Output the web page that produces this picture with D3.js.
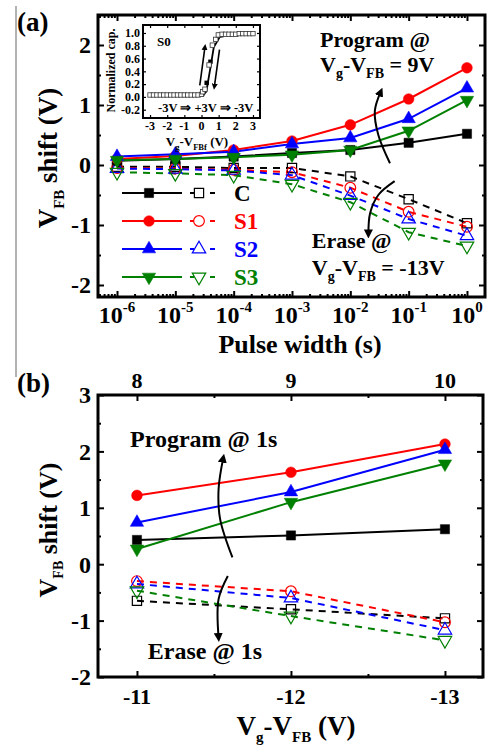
<!DOCTYPE html>
<html><head><meta charset="utf-8">
<script src="https://cdn.jsdelivr.net/npm/d3@7"></script>
<style>
body{margin:0;background:#fff}
svg text{font-family:"Liberation Serif","Times New Roman",serif;font-weight:bold;fill:#000}
</style>
</head><body>
<svg id="c" width="488" height="747"></svg>
<script>
// ---------------- DATA ----------------
const seriesNames = ["C", "S1", "S2", "S3"];
const seriesColors = ["#000000", "#ff0000", "#0000ff", "#008000"];

// Panel (a): pulse width (s)
const pulseWidths = [1e-6, 1e-5, 1e-4, 1e-3, 1e-2, 1e-1, 1];
const progA_C  = [0.07, 0.10, 0.14, 0.20, 0.25, 0.37, 0.52];
const progA_S1 = [0.10, 0.15, 0.25, 0.40, 0.67, 1.10, 1.62];
const progA_S2 = [0.14, 0.18, 0.22, 0.35, 0.45, 0.77, 1.28];
const progA_S3 = [0.08, 0.10, 0.13, 0.17, 0.25, 0.57, 1.08];
const eraseA_C  = [-0.03, -0.03, -0.05, -0.05, -0.19, -0.57, -0.97];
const eraseA_S1 = [-0.05, -0.06, -0.08, -0.12, -0.38, -0.78, -1.03];
const eraseA_S2 = [-0.06, -0.07, -0.09, -0.17, -0.51, -0.90, -1.18];
const eraseA_S3 = [-0.12, -0.14, -0.17, -0.32, -0.62, -1.12, -1.35];
const decadeExps = ["-6", "-5", "-4", "-3", "-2", "-1", "0"];

// Panel (b): gate voltage
const progGate  = [8, 9, 10];
const eraseGate = [-11, -12, -13];
const progB_C  = [0.43, 0.51, 0.62];
const progB_S1 = [1.22, 1.63, 2.13];
const progB_S2 = [0.74, 1.28, 2.03];
const progB_S3 = [0.27, 1.10, 1.78];
const eraseB_C  = [-0.65, -0.80, -0.96];
const eraseB_S1 = [-0.30, -0.48, -1.03];
const eraseB_S2 = [-0.35, -0.60, -1.17];
const eraseB_S3 = [-0.47, -0.92, -1.35];

// Inset: normalized capacitance of S0
const insetV = [-3, -2.8, -2.6, -2.4, -2.2, -2, -1.8, -1.6, -1.4, -1.2, -1, -0.8, -0.6, -0.4, -0.2, 0,
                0.07, 0.2, 0.44, 0.63, 0.83, 0.98, 1.2, 1.4, 1.6, 1.8, 2, 2.2, 2.4, 2.6, 2.8, 3];
const insetC = [0.03, 0.03, 0.03, 0.03, 0.03, 0.03, 0.03, 0.03, 0.03, 0.03, 0.03, 0.03, 0.03, 0.03, 0.03, 0.04,
                0.08, 0.12, 0.50, 0.81, 0.90, 0.97, 0.98, 0.98, 0.98, 0.98, 0.98, 0.99, 0.99, 0.99, 0.99, 0.99];
const insetRevV = [0.30, 0.52];
const insetRevC = [0.22, 0.55];
const insetTicksX = [-3, -2, -1, 0, 1, 2, 3];
const insetTicksY = [-0.2, 0, 0.2, 0.4, 0.6, 0.8, 1.0];

const progA = [progA_C, progA_S1, progA_S2, progA_S3];
const eraseA = [eraseA_C, eraseA_S1, eraseA_S2, eraseA_S3];
const progB = [progB_C, progB_S1, progB_S2, progB_S3];
const eraseB = [eraseB_C, eraseB_S1, eraseB_S2, eraseB_S3];

// ---------------- SETUP ----------------
const svg = d3.select("#c");
const defs = svg.append("defs");
const symFilled = [d3.symbolSquare, d3.symbolCircle, d3.symbolTriangle, d3.symbolTriangle];
const symRot = [0, 0, 0, 180];
const symSize = [85, 90, 78, 78];

function marker(g, i, x, y, open) {
  g.append("path")
    .attr("d", d3.symbol().type(symFilled[i]).size(symSize[i])())
    .attr("transform", `translate(${x},${y}) rotate(${symRot[i]})`)
    .attr("fill", open ? "none" : seriesColors[i])
    .attr("stroke", seriesColors[i])
    .attr("stroke-width", open ? 1.2 : 0.5);
}

function ticks(g, axisFn, scale, values, size, tx, ty, sw) {
  const a = g.append("g").attr("transform", `translate(${tx},${ty})`)
    .call(axisFn(scale).tickValues(values).tickSize(-size).tickFormat(""));
  a.select(".domain").remove();
  a.selectAll("line").attr("stroke", "#000").attr("stroke-width", sw || 2);
  a.selectAll("text").remove();
}

function subText(sel, parts) {
  let shifted = 0;
  parts.forEach(([t, type, fs]) => {
    const ts = sel.append("tspan").text(t);
    let target = 0;
    if (type === "sub") target = fs * 0.45;
    ts.attr("dy", target - shifted);
    shifted = target;
    if (fs) ts.attr("font-size", fs);
  });
}

function addHead(id, w, h) {
  defs.append("marker")
    .attr("id", id).attr("viewBox", "0 0 10 10").attr("refX", 5).attr("refY", 5)
    .attr("markerWidth", w).attr("markerHeight", h).attr("markerUnits", "userSpaceOnUse")
    .attr("orient", "auto")
    .append("path").attr("d", "M0,0 L10,5 L0,10 Z").attr("fill", "#000");
}
addHead("ah", 9, 9);
addHead("ahs", 6, 7);

function curvedArrow(g, pts) {
  g.append("path")
    .attr("d", d3.line().curve(d3.curveCatmullRom)(pts))
    .attr("fill", "none").attr("stroke", "#000").attr("stroke-width", 2)
    .attr("marker-end", "url(#ah)");
}

// left gray bar
svg.append("line").attr("x1", 16).attr("x2", 16).attr("y1", 6).attr("y2", 377)
  .attr("stroke", "#999").attr("stroke-width", 1.5);

// ================= PANEL (a) =================
const A = { l: 98, r: 485, t: 15, b: 297 };
const xA = d3.scaleLog().domain([Math.pow(10, -6.326), Math.pow(10, 0.309)]).range([A.l, A.r]);
const yA = d3.scaleLinear().domain([-2.2, 2.5]).range([A.b, A.t]);
const gA = svg.append("g");

const minorLog = [];
for (let e = -7; e <= 0; e++) for (let m = 2; m <= 9; m++) {
  const v = m * Math.pow(10, e);
  if (v > xA.domain()[0] && v < xA.domain()[1]) minorLog.push(v);
}
ticks(gA, d3.axisBottom, xA, pulseWidths, 6, 0, A.b);
ticks(gA, d3.axisBottom, xA, minorLog, 3, 0, A.b);
ticks(gA, d3.axisTop, xA, pulseWidths, 6, 0, A.t);
ticks(gA, d3.axisTop, xA, minorLog, 3, 0, A.t);
ticks(gA, d3.axisLeft, yA, [-2, -1, 0, 1, 2], 6, A.l, 0);
ticks(gA, d3.axisLeft, yA, [-1.5, -0.5, 0.5, 1.5], 3, A.l, 0);
ticks(gA, d3.axisRight, yA, [-2, -1, 0, 1, 2], 6, A.r, 0);
ticks(gA, d3.axisRight, yA, [-1.5, -0.5, 0.5, 1.5], 3, A.r, 0);

[-2, -1, 0, 1, 2].forEach(v => {
  gA.append("text").attr("x", 91).attr("y", yA(v)).attr("dy", "0.35em")
    .attr("text-anchor", "end").attr("font-size", 24).text(v);
});
pulseWidths.forEach((v, i) => {
  const t = gA.append("text").attr("x", xA(v)).attr("y", 323)
    .attr("text-anchor", "middle").attr("font-size", 24);
  t.append("tspan").text("10");
  t.append("tspan").attr("dy", -11).attr("font-size", 15).text(decadeExps[i]);
});
gA.append("text").attr("x", 300).attr("y", 353).attr("text-anchor", "middle")
  .attr("font-size", 26).text("Pulse width (s)");
{
  const t = gA.append("text").attr("transform", "translate(57,158) rotate(-90)")
    .attr("text-anchor", "middle").attr("font-size", 27);
  subText(t, [["V"], ["FB", "sub", 15], [" shift (V)"]]);
}
gA.append("text").attr("x", 17).attr("y", 31).attr("font-size", 27).text("(a)");

const lineA = d3.line().x((d, i) => xA(pulseWidths[i])).y(d => yA(d));
eraseA.forEach((s, i) => {
  gA.append("path").attr("d", lineA(s)).attr("fill", "none")
    .attr("stroke", seriesColors[i]).attr("stroke-width", 2).attr("stroke-dasharray", "7,6");
});
progA.forEach((s, i) => {
  gA.append("path").attr("d", lineA(s)).attr("fill", "none")
    .attr("stroke", seriesColors[i]).attr("stroke-width", 2);
});
eraseA.forEach((s, i) => s.forEach((v, j) => marker(gA, i, xA(pulseWidths[j]), yA(v), true)));
progA.forEach((s, i) => s.forEach((v, j) => marker(gA, i, xA(pulseWidths[j]), yA(v), false)));

gA.append("rect").attr("x", A.l).attr("y", A.t).attr("width", A.r - A.l).attr("height", A.b - A.t)
  .attr("fill", "none").attr("stroke", "#000").attr("stroke-width", 3);

// legend
const legY = [193, 221, 249, 277];
seriesNames.forEach((n, i) => {
  const y = legY[i];
  gA.append("line").attr("x1", 122).attr("x2", 182).attr("y1", y).attr("y2", y)
    .attr("stroke", seriesColors[i]).attr("stroke-width", 2);
  marker(gA, i, 149, y, false);
  gA.append("line").attr("x1", 190).attr("x2", 219).attr("y1", y).attr("y2", y)
    .attr("stroke", seriesColors[i]).attr("stroke-width", 2).attr("stroke-dasharray", "5,5");
  gA.append("rect").attr("x", 194).attr("y", y - 6).attr("width", 11).attr("height", 12).attr("fill", "#fff");
  marker(gA, i, 199, y, true);
  gA.append("text").attr("x", 234).attr("y", y + 8).attr("font-size", 23)
    .style("fill", seriesColors[i]).text(n);
});

// annotations (a)
const ptA = (lx, v) => [xA(Math.pow(10, lx)), yA(v)];
{
  let p = ptA(-2.52, 1.97);
  gA.append("text").attr("x", p[0]).attr("y", p[1]).attr("font-size", 22).text("Program @");
  p = ptA(-2.52, 1.55);
  const t = gA.append("text").attr("x", p[0]).attr("y", p[1]).attr("font-size", 22);
  subText(t, [["V"], ["g", "sub", 14], ["-V"], ["FB", "sub", 14], [" = 9V"]]);
  p = ptA(-2.66, -1.38);
  gA.append("text").attr("x", p[0]).attr("y", p[1]).attr("font-size", 22).text("Erase @");
  p = ptA(-2.66, -1.83);
  const t2 = gA.append("text").attr("x", p[0]).attr("y", p[1]).attr("font-size", 22);
  subText(t2, [["V"], ["g", "sub", 14], ["-V"], ["FB", "sub", 14], [" = -13V"]]);
  curvedArrow(gA, [ptA(-1.32, 0.03), ptA(-1.52, 0.50), ptA(-1.58, 0.90), ptA(-1.48, 1.22)]);
  curvedArrow(gA, [ptA(-1.24, -0.27), ptA(-1.52, -0.50), ptA(-1.66, -0.80), ptA(-1.69, -1.15)]);
}

// ---------------- INSET ----------------
const I = { l: 143, r: 260, t: 25, b: 118 };
const xI = d3.scaleLinear().domain([-3.41, 3.41]).range([I.l, I.r]);
const yI = d3.scaleLinear().domain([-0.33, 1.125]).range([I.b, I.t]);
const gI = svg.append("g");
gI.append("rect").attr("x", I.l).attr("y", I.t).attr("width", I.r - I.l).attr("height", I.b - I.t)
  .attr("fill", "#fff");
ticks(gI, d3.axisBottom, xI, insetTicksX, 3, 0, I.b, 1.2);
ticks(gI, d3.axisTop, xI, insetTicksX, 3, 0, I.t, 1.2);
ticks(gI, d3.axisLeft, yI, insetTicksY, 3, I.l, 0, 1.2);
ticks(gI, d3.axisRight, yI, insetTicksY, 3, I.r, 0, 1.2);
insetTicksX.forEach(v => {
  gI.append("text").attr("x", xI(v)).attr("y", 130).attr("text-anchor", "middle")
    .attr("font-size", 12).text(v);
});
insetTicksY.forEach(v => {
  gI.append("text").attr("x", 140).attr("y", yI(v)).attr("dy", "0.35em").attr("text-anchor", "end")
    .attr("font-size", 12).text(v.toFixed(1));
});
{
  const t = gI.append("text").attr("x", 197).attr("y", 146).attr("text-anchor", "middle").attr("font-size", 13);
  subText(t, [["V"], ["g", "sub", 8.5], ["-V"], ["FBf", "sub", 8.5], [" (V)"]]);
  gI.append("text").attr("transform", `translate(115,${(I.t + I.b) / 2 - 1}) rotate(-90)`)
    .attr("text-anchor", "middle").attr("font-size", 12).text("Normalized cap.");
}
// reverse sweep
gI.append("path")
  .attr("d", d3.line()(insetC.slice(15, 23).map((c, k) => [xI(insetV[15 + k]) + 1.5, yI(c) + 2])))
  .attr("fill", "none").attr("stroke", "#000").attr("stroke-width", 1.8);
insetRevV.forEach((v, i) => {
  gI.append("rect").attr("x", xI(v) - 2.2).attr("y", yI(insetRevC[i]) - 2.2).attr("width", 4.4).attr("height", 4.4)
    .attr("fill", "#000");
});
insetV.forEach((v, i) => {
  gI.append("rect").attr("x", xI(v) - 2.2).attr("y", yI(insetC[i]) - 2.2).attr("width", 4.4).attr("height", 4.4)
    .attr("fill", "#fff").attr("stroke", "#333").attr("stroke-width", 0.8);
});
const ptI = (a, b) => [xI(a), yI(b)];
gI.append("path").attr("d", d3.line()([ptI(-0.1, 0.18), ptI(0.2, 0.78)]))
  .attr("stroke", "#000").attr("stroke-width", 1.6).attr("marker-end", "url(#ahs)");
gI.append("path").attr("d", d3.line()([ptI(1.05, 0.74), ptI(0.75, 0.16)]))
  .attr("stroke", "#000").attr("stroke-width", 1.6).attr("marker-end", "url(#ahs)");
gI.append("text").attr("x", 157).attr("y", 46).attr("font-size", 13).text("S0");
gI.append("text").attr("x", 158).attr("y", 112).attr("font-size", 12.5).text("-3V \u21D2 +3V \u21D2 -3V");
gI.append("rect").attr("x", I.l).attr("y", I.t).attr("width", I.r - I.l).attr("height", I.b - I.t)
  .attr("fill", "none").attr("stroke", "#000").attr("stroke-width", 2);

// ================= PANEL (b) =================
const B = { l: 98, r: 483, t: 395, b: 677 };
const xB = d3.scaleLinear().domain([7.747, 10.247]).range([B.l, B.r]);
const xB2 = d3.scaleLinear().domain([-10.747, -13.247]).range([B.l, B.r]);
const yB = d3.scaleLinear().domain([-2, 3]).range([B.b, B.t]);
const gB = svg.append("g");

ticks(gB, d3.axisTop, xB, progGate, 6, 0, B.t);
ticks(gB, d3.axisTop, xB, [8.5, 9.5], 3, 0, B.t);
ticks(gB, d3.axisBottom, xB2, eraseGate, 6, 0, B.b);
ticks(gB, d3.axisBottom, xB2, [-11.5, -12.5], 3, 0, B.b);
ticks(gB, d3.axisLeft, yB, [-2, -1, 0, 1, 2, 3], 6, B.l, 0);
ticks(gB, d3.axisLeft, yB, [-1.5, -0.5, 0.5, 1.5, 2.5], 3, B.l, 0);
ticks(gB, d3.axisRight, yB, [-2, -1, 0, 1, 2, 3], 6, B.r, 0);
ticks(gB, d3.axisRight, yB, [-1.5, -0.5, 0.5, 1.5, 2.5], 3, B.r, 0);

[-2, -1, 0, 1, 2, 3].forEach(v => {
  gB.append("text").attr("x", 91).attr("y", yB(v)).attr("dy", "0.35em")
    .attr("text-anchor", "end").attr("font-size", 24).text(v);
});
progGate.forEach(v => {
  gB.append("text").attr("x", xB(v)).attr("y", 388).attr("text-anchor", "middle")
    .attr("font-size", 22).text(v);
});
eraseGate.forEach(v => {
  gB.append("text").attr("x", xB2(v)).attr("y", 704).attr("text-anchor", "middle")
    .attr("font-size", 22).text(v);
});
{
  const t = gB.append("text").attr("x", 296).attr("y", 735).attr("text-anchor", "middle").attr("font-size", 27);
  subText(t, [["V"], ["g", "sub", 15], ["-V"], ["FB", "sub", 15], [" (V)"]]);
  const t2 = gB.append("text").attr("transform", "translate(57,530) rotate(-90)")
    .attr("text-anchor", "middle").attr("font-size", 26);
  subText(t2, [["V"], ["FB", "sub", 14], [" shift (V)"]]);
}
gB.append("text").attr("x", 17).attr("y", 392).attr("font-size", 27).text("(b)");

const lineBp = d3.line().x((d, i) => xB(progGate[i])).y(d => yB(d));
const lineBe = d3.line().x((d, i) => xB2(eraseGate[i])).y(d => yB(d));
eraseB.forEach((s, i) => {
  gB.append("path").attr("d", lineBe(s)).attr("fill", "none")
    .attr("stroke", seriesColors[i]).attr("stroke-width", 2).attr("stroke-dasharray", "7,6");
});
progB.forEach((s, i) => {
  gB.append("path").attr("d", lineBp(s)).attr("fill", "none")
    .attr("stroke", seriesColors[i]).attr("stroke-width", 2);
});
eraseB.forEach((s, i) => s.forEach((v, j) => marker(gB, i, xB2(eraseGate[j]), yB(v), true)));
progB.forEach((s, i) => s.forEach((v, j) => marker(gB, i, xB(progGate[j]), yB(v), false)));

gB.append("rect").attr("x", B.l).attr("y", B.t).attr("width", B.r - B.l).attr("height", B.b - B.t)
  .attr("fill", "none").attr("stroke", "#000").attr("stroke-width", 3);

const ptB = (a, b) => [xB(a), yB(b)];
gB.append("text").attr("x", xB(7.955)).attr("y", yB(2.07)).attr("font-size", 24).text("Program @ 1s");
gB.append("text").attr("x", xB(8.07)).attr("y", yB(-1.68)).attr("font-size", 24).text("Erase @ 1s");
curvedArrow(gB, [ptB(8.62, 0.12), ptB(8.54, 0.80), ptB(8.53, 1.33), ptB(8.56, 1.88)]);
curvedArrow(gB, [ptB(8.59, -0.21), ptB(8.53, -0.62), ptB(8.53, -1.30)]);
</script>
</body></html>
